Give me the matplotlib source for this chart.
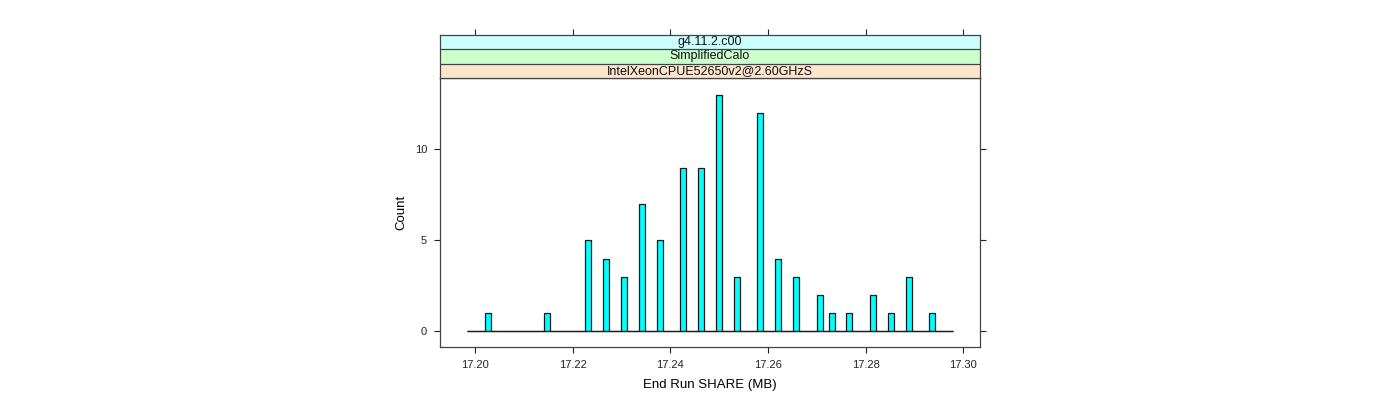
import numpy as np
import matplotlib
matplotlib.use('Agg')
import matplotlib.pyplot as plt

# histogram data: 82 equal bins between these limits
bin_lo = 17.1983
bin_hi = 17.2979
counts = [0, 0, 0, 1, 0, 0, 0, 0, 0, 0,
          0, 0, 0, 1, 0, 0, 0, 0, 0, 0,
          5, 0, 0, 4, 0, 0, 3, 0, 0, 7,
          0, 0, 5, 0, 0, 0, 9, 0, 0, 9,
          0, 0, 13, 0, 0, 3, 0, 0, 0, 12,
          0, 0, 4, 0, 0, 3, 0, 0, 0, 2,
          0, 1, 0, 0, 1, 0, 0, 0, 2, 0,
          0, 1, 0, 0, 3, 0, 0, 0, 1, 0,
          0, 0]
x_ticks = [17.20, 17.22, 17.24, 17.26, 17.28, 17.30]
y_ticks = [0, 5, 10]
strip_labels = ['IntelXeonCPUE52650v2@2.60GHzS', 'SimplifiedCalo', 'g4.11.2.c00']
strip_colors = ['#ffe5cc', '#ccffcc', '#ccffff']

plt.rcParams['font.family'] = ['Liberation Sans', 'DejaVu Sans']

fig = plt.figure(figsize=(14, 4), dpi=100)
W, H = 1400, 400

# main panel
ax = fig.add_axes([440 / W, 1 - 347.3 / H, 540 / W, (347.3 - 78) / H])
edges = np.linspace(bin_lo, bin_hi, len(counts) + 1)
width = edges[1] - edges[0]
ax.hlines(0, bin_lo, bin_hi, color='#1a1a1a', linewidth=0.9)
ax.bar(edges[:-1], counts, width=width, align='edge', color='#00ffff',
       edgecolor='#1a1a1a', linewidth=0.9)

ax.set_xlim(17.1928, 17.3034)
ax.set_ylim(-0.88, 13.92)
ax.set_xticks(x_ticks)
ax.set_xticklabels(['%.2f' % t for t in x_ticks])
ax.set_yticks(y_ticks)
ax.tick_params(axis='both', direction='out', length=4.3, width=0.8,
               labelsize=8, colors='#222222', pad=5)
ax.tick_params(axis='y', right=True, labelright=False)
for spine in ax.spines.values():
    spine.set_color('#444444')
    spine.set_linewidth(0.9)
ax.set_xlabel('End Run SHARE (MB)', fontsize=9.5, labelpad=6)
ax.set_ylabel('Count', fontsize=9.5, labelpad=5)

# strips on top
sax = fig.add_axes([440 / W, 1 - 78 / H, 540 / W, (78 - 35) / H], sharex=ax)
sax.set_ylim(0, 3)
for i, (lab, col) in enumerate(zip(strip_labels, strip_colors)):
    sax.axhspan(i, i + 1, color=col, zorder=0)
    if i > 0:
        sax.axhline(i, color='#444444', linewidth=0.9)
    sax.text(0.5, (i + 0.5) / 3, lab, transform=sax.transAxes, ha='center',
             va='center', fontsize=9, color='#111111')
sax.tick_params(axis='x', bottom=False, labelbottom=False, top=True,
                direction='out', length=4.3, width=0.8, colors='#222222')
sax.set_yticks([])
for spine in sax.spines.values():
    spine.set_color('#444444')
    spine.set_linewidth(0.9)

fig.savefig('out.png', dpi=100, facecolor='white')
